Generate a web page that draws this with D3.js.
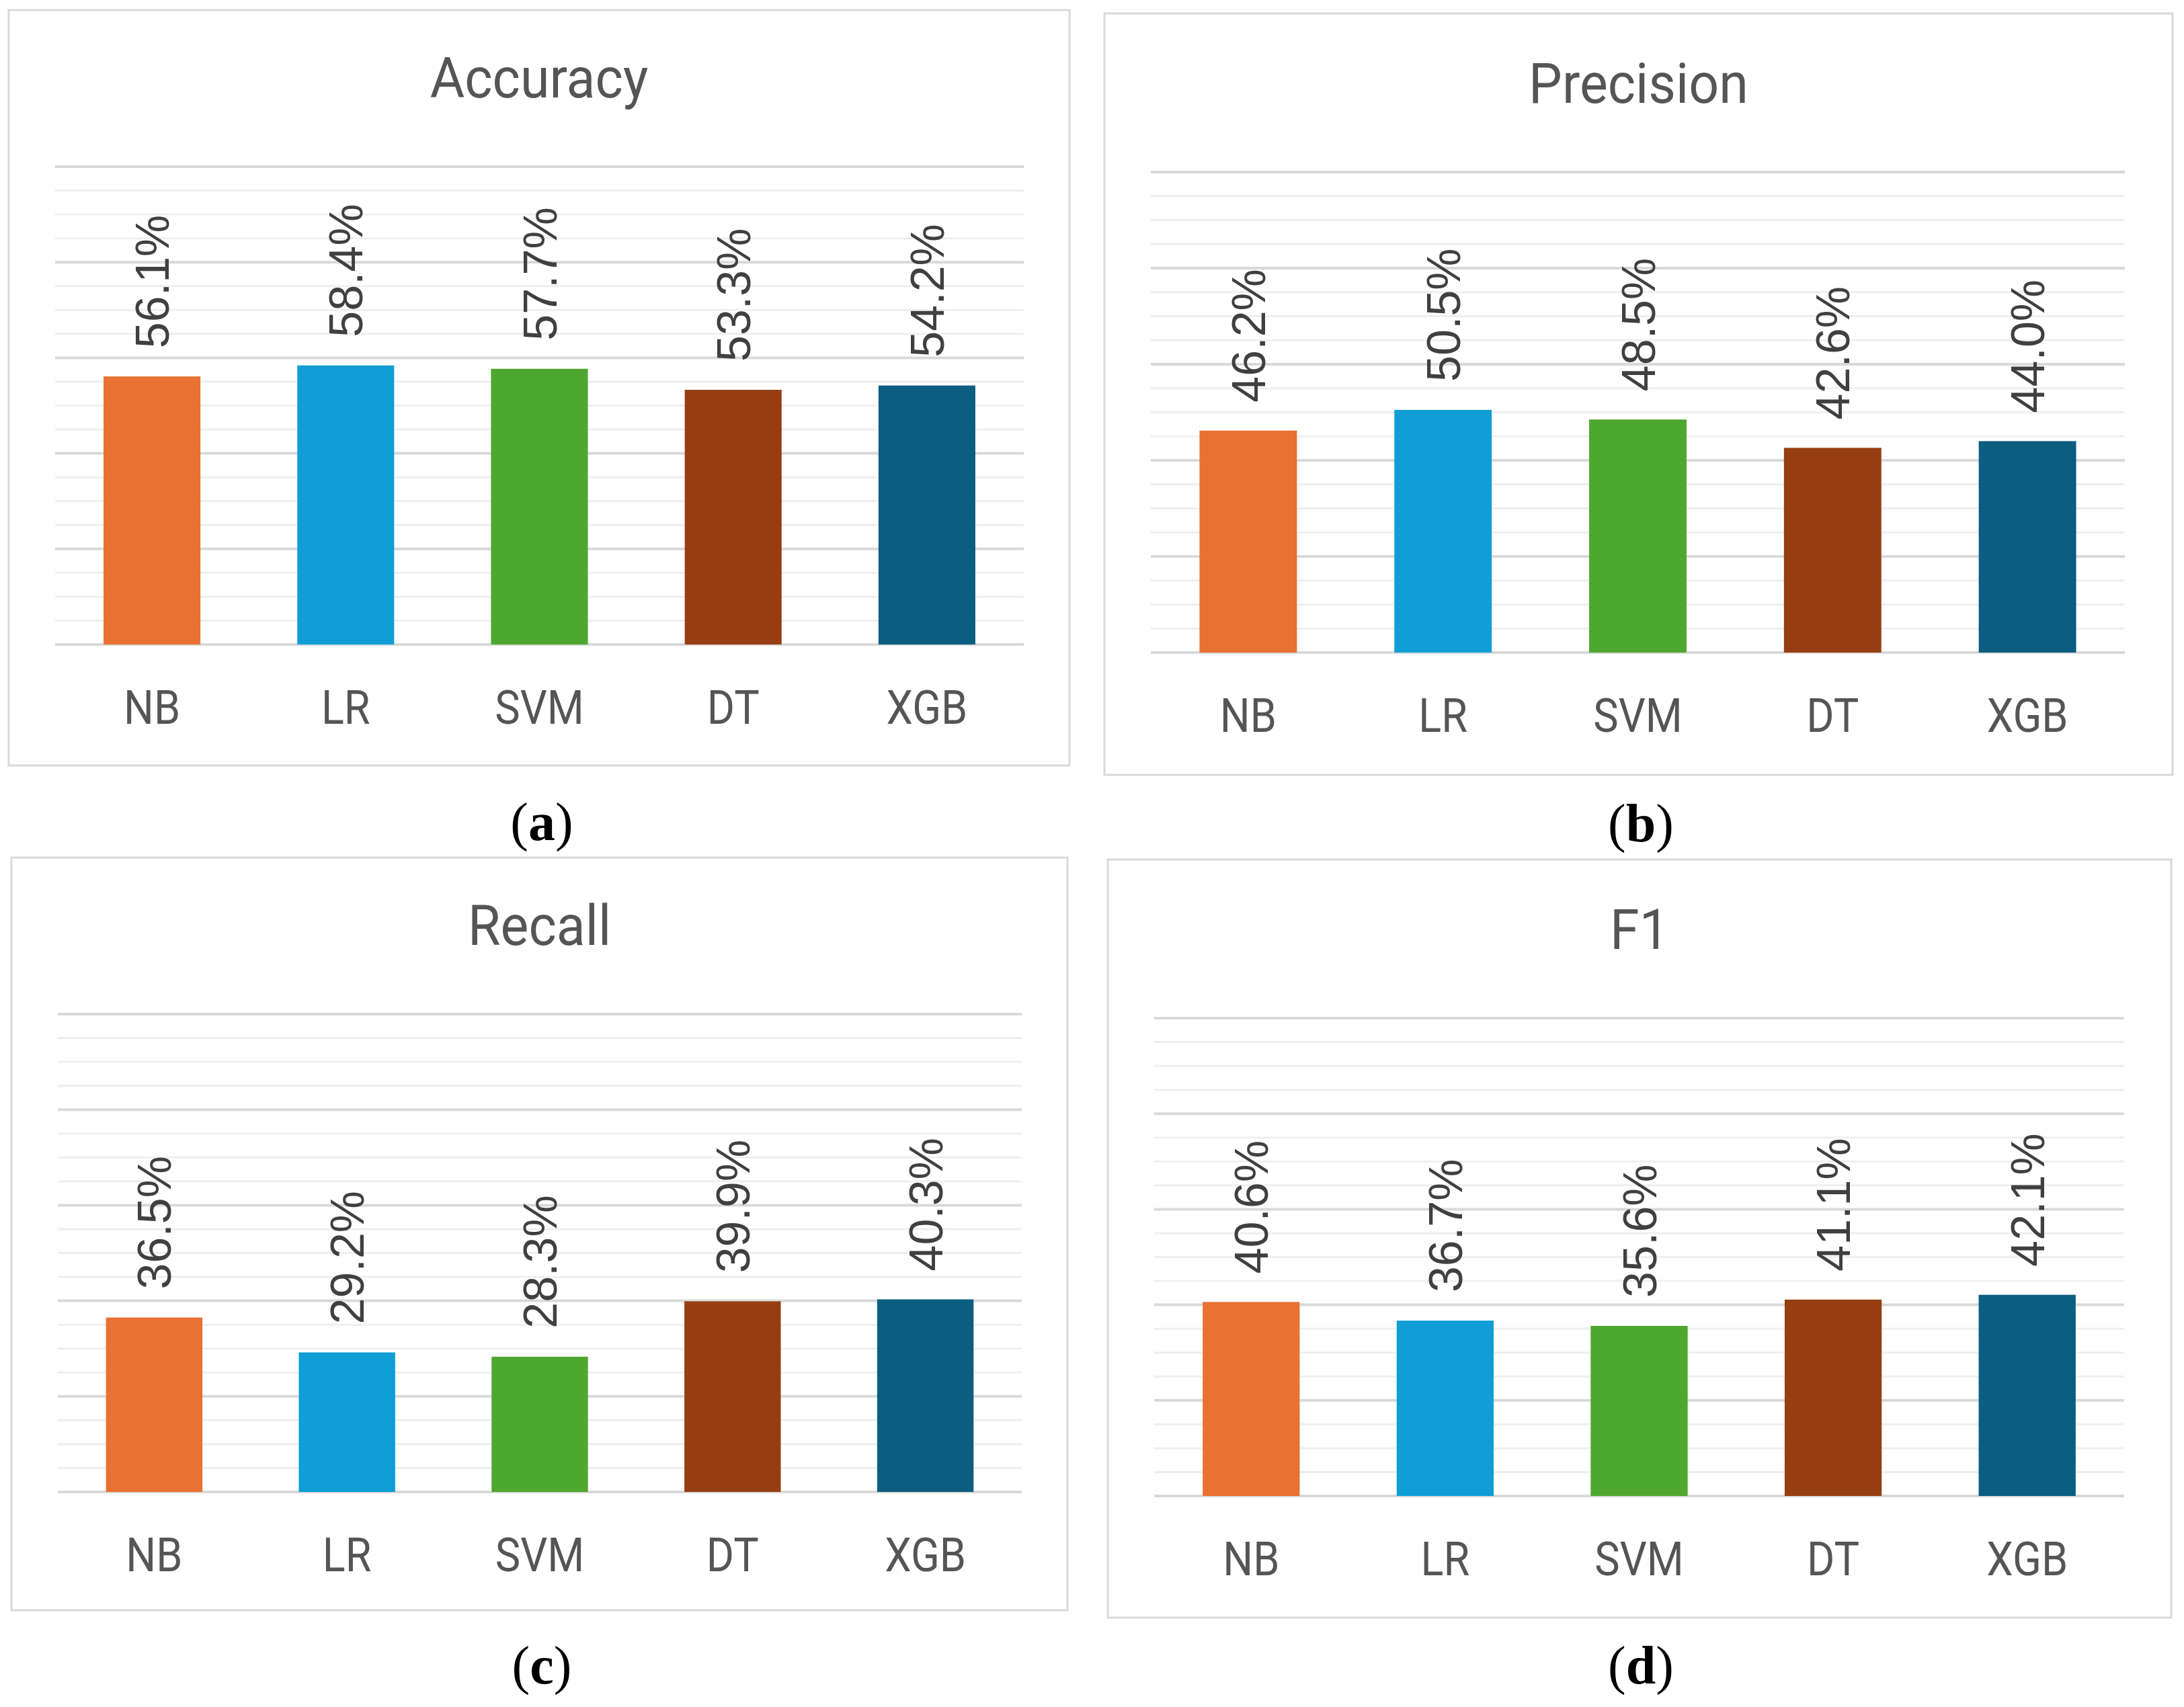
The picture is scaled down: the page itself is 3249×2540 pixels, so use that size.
<!DOCTYPE html>
<html>
<head>
<meta charset="utf-8">
<script src="https://cdn.jsdelivr.net/npm/d3@7"></script>
<style>
  html, body { margin: 0; padding: 0; background: #ffffff; }
  svg { display: block; }
</style>
</head>
<body>
<script>
// data
const models = ["NB", "LR", "SVM", "DT", "XGB"];
const accuracy = [56.1, 58.4, 57.7, 53.3, 54.2];
const precision = [46.2, 50.5, 48.5, 42.6, 44.0];
const recall = [36.5, 29.2, 28.3, 39.9, 40.3];
const f1 = [40.6, 36.7, 35.6, 41.1, 42.1];
const titles = ["Accuracy", "Precision", "Recall", "F1"];
const captions = ["a", "b", "c", "d"];
const barColors = ["#E97132", "#0F9ED5", "#4EA72E", "#963E11", "#0B5E80"];

// panel boxes and plot areas, in page pixels
const panels = [
    { values: accuracy,  box: [13, 15, 1591, 1139],   plot: [82, 248, 1523, 959],    cap: [806, 1250] },
    { values: precision, box: [1643, 20, 3232, 1153], plot: [1712, 256, 3161, 971],  cap: [2441, 1252] },
    { values: recall,    box: [17, 1276, 1588, 2396], plot: [86, 1509, 1520, 2220],  cap: [806, 2505] },
    { values: f1,        box: [1648, 1279, 3230, 2407], plot: [1717, 1515, 3160, 2226], cap: [2441, 2505] }
];

const svg = d3.select("body")
    .append("svg")
    .attr("width", 3249)
    .attr("height", 2540);

svg.append("rect")
    .attr("width", 3249)
    .attr("height", 2540)
    .attr("fill", "#ffffff");

function narrowText(g, txt, x, y, size, squeeze) {
    g.append("text")
        .attr("transform", `translate(${x},${y}) scale(${squeeze},1)`)
        .attr("text-anchor", "middle")
        .style("font-family", "Roboto, 'Liberation Sans', sans-serif")
        .style("font-size", size + "px")
        .style("fill", "#555555")
        .text(txt);
}

function drawPanel(p, i) {
    const g = svg.append("g");
    const [bx0, by0, bx1, by1] = p.box;
    const [px0, py0, px1, py1] = p.plot;

    g.append("rect")
        .attr("x", bx0)
        .attr("y", by0)
        .attr("width", bx1 - bx0)
        .attr("height", by1 - by0)
        .attr("fill", "#ffffff")
        .attr("stroke", "#d9d9d9")
        .attr("stroke-width", 3);

    const x = d3.scaleBand()
        .domain(models)
        .range([px0, px1])
        .paddingInner(0.5)
        .paddingOuter(0.25);

    const y = d3.scaleLinear()
        .domain([0, 100])
        .range([py1, py0]);

    // minor grid every 4%, major every 20%
    g.selectAll(".grid")
        .data(y.ticks(25))
        .enter()
        .append("line")
        .attr("x1", px0)
        .attr("x2", px1)
        .attr("y1", d => y(d))
        .attr("y2", d => y(d))
        .attr("stroke", d => d % 20 === 0 ? "#d9d9d9" : "#efefef")
        .attr("stroke-width", d => d % 20 === 0 ? 4 : 3);

    g.selectAll(".bar")
        .data(p.values)
        .enter()
        .append("rect")
        .attr("x", (d, j) => x(models[j]))
        .attr("y", d => y(d))
        .attr("width", x.bandwidth())
        .attr("height", d => y(0) - y(d))
        .attr("fill", (d, j) => barColors[j]);

    // value labels, rotated
    g.selectAll(".val")
        .data(p.values)
        .enter()
        .append("text")
        .attr("transform", (d, j) => {
            const cx = x(models[j]) + x.bandwidth() / 2 + 25;
            return `translate(${cx},${y(d) - 42}) rotate(-90)`;
        })
        .attr("text-anchor", "start")
        .style("font-family", "'Liberation Sans', Arial, sans-serif")
        .style("font-size", "70px")
        .style("fill", "#404040")
        .text(d => d.toFixed(1) + "%");

    // category axis labels
    models.forEach(m => {
        narrowText(g, m, x(m) + x.bandwidth() / 2, py1 + 118, 70, 0.9);
    });

    // title
    narrowText(g, titles[i], (bx0 + bx1) / 2, py0 - 103, 84, 0.94);

    // caption (a), (b)...
    const cap = g.append("text")
        .attr("x", p.cap[0])
        .attr("y", p.cap[1])
        .attr("text-anchor", "middle")
        .style("font-family", "'Liberation Serif', 'Times New Roman', serif")
        .style("font-size", "80px")
        .style("fill", "#000000");
    cap.append("tspan").text("(");
    cap.append("tspan").style("font-weight", "bold").text(captions[i]);
    cap.append("tspan").text(")");
}

panels.forEach(drawPanel);
</script>
</body>
</html>
